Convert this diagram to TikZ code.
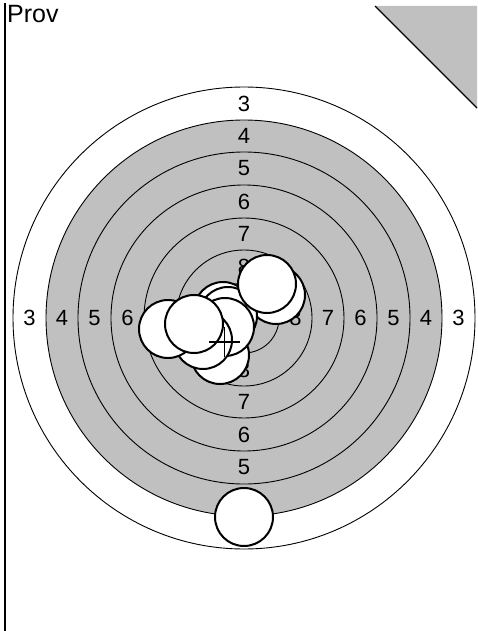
\documentclass[tikz,border=0pt]{standalone}
\usepackage{fontspec}
\setmainfont{Liberation Sans}
\usepackage{xcolor}
\usetikzlibrary{positioning}
\definecolor{zonegrey}{RGB}{192,192,192}

\begin{document}
\begin{tikzpicture}[x=1pt,y=-1pt,
    ring/.style={line width=0.9pt},
    shot/.style={circle,draw=black,fill=white,line width=2pt,minimum size=58pt,inner sep=0pt},
    ringnum/.style={inner sep=0pt,font=\fontsize{22}{24}\selectfont}]
  \useasboundingbox (0,0) rectangle (477,631);
  \coordinate (ctr) at (244,318);
  % frame bits
  \draw[line width=1.5pt] (5,3)--(5,631);
  \node[anchor=base west,inner sep=0pt,font=\fontsize{25}{28}\selectfont] (prov) at (7,23) {Prov};
  \fill[zonegrey] (375,6)--(477,6)--(477,108)--cycle;
  \draw[line width=1.2pt] (375,6)--(477,108);
  % zones
  \draw[ring] (ctr) circle[radius=231pt];
  \filldraw[ring,fill=zonegrey] (ctr) circle[radius=198pt];
  \foreach \r in {166,133,100,68,35}
    \draw[ring] (ctr) circle[radius=\r pt];
  % ring numbers
  \foreach \v/\r in {3/214.5,4/182,5/149.5,6/116.5,7/84,8/51.5} {
    \node[ringnum] (top\v) at (244,{318-\r}) {\v};
    \node[ringnum] (bot\v) at (244,{318+\r}) {\v};
    \node[ringnum] (lft\v) at ({244-\r},318) {\v};
    \node[ringnum] (rgt\v) at ({244+\r},318) {\v};
  }
  % hits
  \foreach \n/\x/\y in {1/276/295,2/223/311,3/228/316,4/220/355,5/225/327,
                        6/203/340,7/168/329,8/194/324,9/267/284,10/244/517}
    \node[shot] (hit\n) at (\x,\y) {};
  % group centre
  \coordinate (aim) at (224.5,342);
  \draw[line width=1.3pt] (aim) +(-15.5,0)--+(15.5,0);
  \draw[line width=1.3pt] (aim) +(0,-15)--+(0,15);
\end{tikzpicture}
\end{document}
